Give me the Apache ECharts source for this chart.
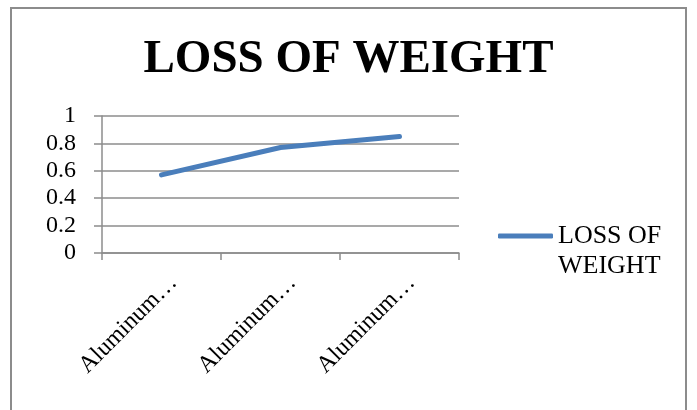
<!DOCTYPE html>
<html>
<head>
<meta charset="utf-8">
<script src="https://cdn.jsdelivr.net/npm/echarts@6/dist/echarts.min.js"></script>
<style>
  html, body { margin: 0; padding: 0; background: #ffffff; }
  #chart { width: 697px; height: 410px; }
</style>
</head>
<body>
<div id="chart"></div>
<script>
// Category labels along the x axis
const categories = ['Aluminum…', 'Aluminum…', 'Aluminum…'];
// Loss of weight for each sample
const lossOfWeight = [0.57, 0.77, 0.85];
// Value axis range and tick step
const yMin = 0;
const yMax = 1;
const yStep = 0.2;

const serif = '"Liberation Serif", "Times New Roman", serif';
const gridGray = '#8c8c8c';
const chart = echarts.init(document.getElementById('chart'), null, { renderer: 'canvas' });

chart.setOption({
  backgroundColor: '#ffffff',
  animation: false,
  graphic: [{
    type: 'rect',
    shape: { x: 11, y: 8, width: 675, height: 420 },
    style: { fill: 'none', stroke: gridGray, lineWidth: 2 },
    z: -1
  }],
  title: {
    text: 'LOSS OF WEIGHT',
    left: 'center',
    top: 31,
    textStyle: { fontFamily: serif, fontSize: 47, fontWeight: 'bold', color: '#000000' }
  },
  legend: {
    left: 498,
    top: 191,
    padding: 0,
    orient: 'vertical',
    itemWidth: 55,
    itemHeight: 5,
    itemGap: 4,
    icon: 'roundRect',
    // blank leading line keeps the first text line level with the legend line
    formatter: function (name) { return '\nLOSS OF\nWEIGHT'; },
    textStyle: {
      fontFamily: serif,
      fontSize: 26,
      color: '#000000',
      lineHeight: 30
    }
  },
  grid: { left: 102, right: 238, top: 116, bottom: 157, containLabel: false },
  xAxis: {
    type: 'category',
    data: categories,
    boundaryGap: true,
    axisLine: { lineStyle: { color: gridGray, width: 1.5 } },
    axisTick: { show: true, length: 7, lineStyle: { color: gridGray, width: 1.5 } },
    axisLabel: {
      rotate: 45,
      interval: 0,
      margin: 14,
      verticalAlign: 'top',
      lineHeight: 34,
      fontFamily: serif,
      fontSize: 24,
      color: '#000000'
    }
  },
  yAxis: {
    type: 'value',
    min: yMin,
    max: yMax,
    interval: yStep,
    axisLine: { show: true, lineStyle: { color: gridGray, width: 1.5 } },
    axisTick: { show: true, length: 8, lineStyle: { color: gridGray, width: 1.5 } },
    splitLine: { lineStyle: { color: gridGray, width: 1.5 } },
    axisLabel: {
      margin: 26,
      fontFamily: serif,
      fontSize: 24,
      color: '#000000',
      formatter: function (v) { return String(Math.round(v * 10) / 10); }
    }
  },
  series: [{
    name: 'LOSS OF WEIGHT',
    type: 'line',
    data: lossOfWeight,
    showSymbol: false,
    symbol: 'none',
    lineStyle: { color: '#4a7ebb', width: 5, cap: 'round', join: 'round' },
    itemStyle: { color: '#4a7ebb' }
  }]
});
</script>
</body>
</html>
